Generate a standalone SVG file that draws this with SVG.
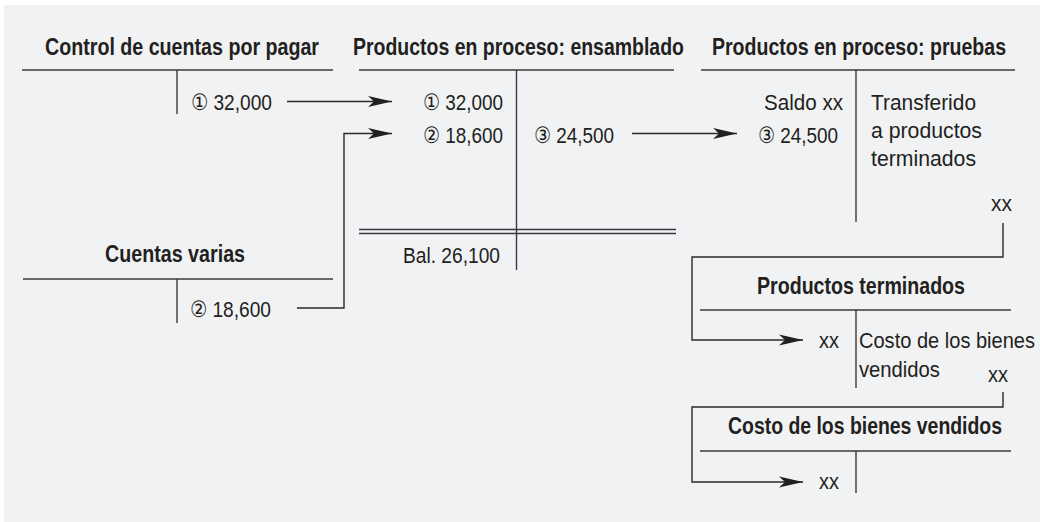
<svg xmlns="http://www.w3.org/2000/svg" width="1040" height="522" viewBox="0 0 1040 522">
<defs>
<style>
.t{font-family:"Liberation Sans","DejaVu Sans",sans-serif;font-size:22.5px;fill:#231f20;}
.h{font-family:"Liberation Sans","DejaVu Sans",sans-serif;font-size:23.5px;font-weight:bold;fill:#231f20;}
.ln{stroke:#3a3a3c;stroke-width:1.4;fill:none;}
.cn{stroke:#2a2a2a;stroke-width:1.4;fill:none;}
</style>
<marker id="ah" markerUnits="userSpaceOnUse" markerWidth="24" markerHeight="12" viewBox="0 0 24 12" refX="24" refY="6" orient="auto">
<path d="M0,0.6 L24,6 L0,11.4 L6,6 Z" fill="#231f20"/>
</marker>
</defs>
<rect x="4" y="5" width="1036" height="517" fill="#f1f2f4"/>

<g id="control-cuentas-por-pagar">
<text class="h" transform="matrix(0.84,0,0,1,45,55)" textLength="326.2" lengthAdjust="spacingAndGlyphs">Control de cuentas por pagar</text>
<line class="ln" x1="22" y1="70" x2="333" y2="70"/>
<line class="ln" x1="177" y1="70" x2="177" y2="114"/>
<text class="t" transform="matrix(0.9,0,0,1,191,110)" textLength="90" lengthAdjust="spacingAndGlyphs">① 32,000</text>
</g>

<g id="productos-proceso-ensamblado">
<text class="h" transform="matrix(0.84,0,0,1,353,55)" textLength="394" lengthAdjust="spacingAndGlyphs">Productos en proceso: ensamblado</text>
<line class="ln" x1="359" y1="70" x2="674" y2="70"/>
<line class="ln" x1="516.5" y1="70" x2="516.5" y2="270"/>
<text class="t" transform="matrix(0.9,0,0,1,423,110)" textLength="88.9" lengthAdjust="spacingAndGlyphs">① 32,000</text>
<text class="t" transform="matrix(0.9,0,0,1,423,143)" textLength="88.9" lengthAdjust="spacingAndGlyphs">② 18,600</text>
<text class="t" transform="matrix(0.9,0,0,1,534,143)" textLength="88.9" lengthAdjust="spacingAndGlyphs">③ 24,500</text>
<line class="ln" x1="359" y1="229.5" x2="676" y2="229.5"/>
<line class="ln" x1="359" y1="233.5" x2="676" y2="233.5"/>
<text class="t" transform="matrix(0.9,0,0,1,403,263)" textLength="107.8" lengthAdjust="spacingAndGlyphs">Bal. 26,100</text>
</g>

<g id="productos-proceso-pruebas">
<text class="h" transform="matrix(0.84,0,0,1,712,55)" textLength="350" lengthAdjust="spacingAndGlyphs">Productos en proceso: pruebas</text>
<line class="ln" x1="701" y1="70" x2="1015" y2="70"/>
<line class="ln" x1="856" y1="70" x2="856" y2="222"/>
<text class="t" transform="matrix(0.9,0,0,1,764,110)" textLength="87.8" lengthAdjust="spacingAndGlyphs">Saldo xx</text>
<text class="t" transform="matrix(0.9,0,0,1,758,143)" textLength="88.9" lengthAdjust="spacingAndGlyphs">③ 24,500</text>
<text class="t" transform="matrix(0.9,0,0,1,871,110)" textLength="116.7" lengthAdjust="spacingAndGlyphs">Transferido</text>
<text class="t" transform="matrix(0.9,0,0,1,871,138)" textLength="123.3" lengthAdjust="spacingAndGlyphs">a productos</text>
<text class="t" transform="matrix(0.9,0,0,1,871,166)" textLength="116.7" lengthAdjust="spacingAndGlyphs">terminados</text>
<text class="t" transform="matrix(0.9,0,0,1,991,211)" textLength="23.3" lengthAdjust="spacingAndGlyphs">xx</text>
</g>

<g id="cuentas-varias">
<text class="h" transform="matrix(0.84,0,0,1,105,262)" textLength="166.7" lengthAdjust="spacingAndGlyphs">Cuentas varias</text>
<line class="ln" x1="23" y1="279" x2="333" y2="279"/>
<line class="ln" x1="177" y1="279" x2="177" y2="323"/>
<text class="t" transform="matrix(0.9,0,0,1,190,317)" textLength="90" lengthAdjust="spacingAndGlyphs">② 18,600</text>
</g>

<g id="productos-terminados">
<text class="h" transform="matrix(0.84,0,0,1,757,294)" textLength="247.6" lengthAdjust="spacingAndGlyphs">Productos terminados</text>
<line class="ln" x1="700" y1="310" x2="1011" y2="310"/>
<line class="ln" x1="856" y1="310" x2="856" y2="388"/>
<text class="t" transform="matrix(0.9,0,0,1,819,348)" textLength="22.2" lengthAdjust="spacingAndGlyphs">xx</text>
<text class="t" transform="matrix(0.9,0,0,1,859,348)" textLength="195.6" lengthAdjust="spacingAndGlyphs">Costo de los bienes</text>
<text class="t" transform="matrix(0.9,0,0,1,859,377)" textLength="90" lengthAdjust="spacingAndGlyphs">vendidos</text>
<text class="t" transform="matrix(0.9,0,0,1,988,382)" textLength="22.2" lengthAdjust="spacingAndGlyphs">xx</text>
</g>

<g id="costo-bienes-vendidos">
<text class="h" transform="matrix(0.84,0,0,1,728,434)" textLength="326.2" lengthAdjust="spacingAndGlyphs">Costo de los bienes vendidos</text>
<line class="ln" x1="700" y1="451" x2="1011" y2="451"/>
<line class="ln" x1="856" y1="451" x2="856" y2="493"/>
<text class="t" transform="matrix(0.9,0,0,1,819,489)" textLength="22.2" lengthAdjust="spacingAndGlyphs">xx</text>
</g>

<g id="connectors">
<line class="cn" x1="287" y1="101.5" x2="392" y2="101.5" marker-end="url(#ah)"/>
<polyline class="cn" points="297,308 344,308 344,133.5 392,133.5" marker-end="url(#ah)"/>
<line class="cn" x1="632" y1="133.5" x2="737" y2="133.5" marker-end="url(#ah)"/>
<polyline class="cn" points="1003,223 1003,257 692,257 692,340 803,340" marker-end="url(#ah)"/>
<polyline class="cn" points="1003,392 1003,407 692,407 692,482 803,482" marker-end="url(#ah)"/>
</g>
</svg>
